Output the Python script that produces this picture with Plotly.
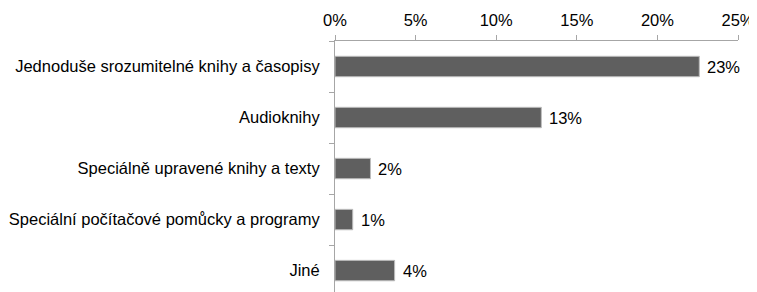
import plotly.graph_objects as go

categories = ["Jednoduše srozumitelné knihy a časopisy", "Audioknihy",
              "Speciálně upravené knihy a texty",
              "Speciální počítačové pomůcky a programy", "Jiné"]
values = [22.6, 12.8, 2.2, 1.1, 3.7]
value_labels = ["23%", "13%", "2%", "1%", "4%"]
tick_vals = [0, 5, 10, 15, 20, 25]
tick_text = ["0%", "5%", "10%", "15%", "20%", "25%"]

font_family = "Liberation Sans, Arial, Helvetica, sans-serif"
FS = 16.5

fig = go.Figure(go.Bar(
    x=values, y=categories, orientation="h",
    marker=dict(color="#5f5f5f", line=dict(color="#bdbdbd", width=1)),
    width=0.4,
))

for v, lab, cat in zip(values, value_labels, categories):
    fig.add_annotation(x=v, y=cat, text=lab, showarrow=False,
                       xanchor="left", xshift=6,
                       font=dict(family=font_family, size=FS, color="#000"))

# page body has an 8px margin, so the figure is sized to fit the window from (8, 8)
fig.update_layout(
    width=749, height=284,
    margin=dict(l=327, r=19, t=33, b=0),
    paper_bgcolor="white", plot_bgcolor="white",
    showlegend=False,
    font=dict(family=font_family, size=FS, color="#000"),
    xaxis=dict(side="top", range=[0, 25], tickvals=tick_vals, ticktext=tick_text,
               showgrid=False, zeroline=False, showline=True, linecolor="#a6a6a6",
               linewidth=1, ticks="outside", ticklen=5, tickcolor="#a6a6a6",
               ticklabelstandoff=2),
    yaxis=dict(autorange=False, range=[4.42, -0.5], type="category",
               showgrid=False, zeroline=False, showline=True, linecolor="#a6a6a6",
               linewidth=1, ticks="outside", ticklen=5, tickcolor="#a6a6a6",
               tickson="boundaries", ticklabelstandoff=11),
)

fig.write_html("out.html")
